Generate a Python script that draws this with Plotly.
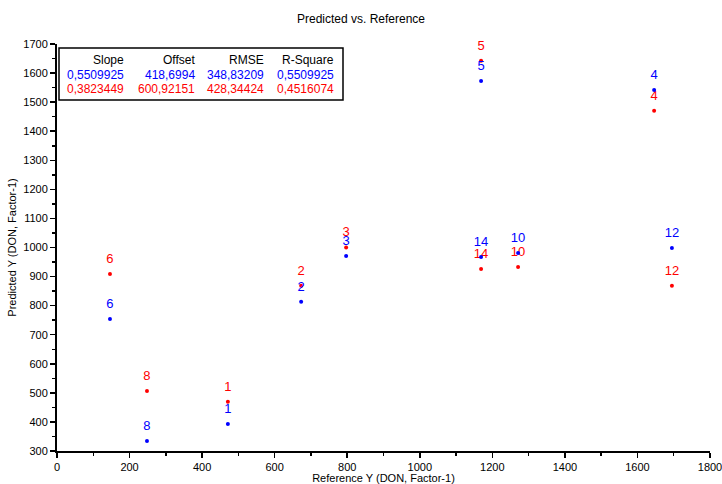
import plotly.graph_objects as go

sample_ids = ["1", "2", "3", "4", "5", "6", "8", "10", "12", "14"]
reference_y = [471, 673, 797, 1646, 1169, 146, 248, 1271, 1695, 1169]
predicted_blue = [393, 813, 971, 1542, 1573, 754, 334, 981, 998, 967]
predicted_red = [469, 868, 1000, 1470, 1642, 909, 506, 933, 868, 926]

table_headers = ["Slope", "Offset", "RMSE", "R-Square"]
table_blue = ["0,5509925", "418,6994", "348,83209", "0,5509925"]
table_red = ["0,3823449", "600,92151", "428,34424", "0,4516074"]

FONT = "Liberation Sans, Arial, sans-serif"

fig = go.Figure()
for vals, col in [(predicted_red, "#ff0000"), (predicted_blue, "#0000ff")]:
    # labels (invisible spacer marker sets the label's distance from the dot)
    fig.add_trace(go.Scatter(
        x=reference_y, y=vals, mode="markers+text", text=sample_ids,
        textposition="top center",
        textfont=dict(color=col, size=13, family=FONT),
        marker=dict(color="rgba(0,0,0,0)", size=11),
        showlegend=False, hoverinfo="skip", cliponaxis=False,
    ))
    fig.add_trace(go.Scatter(
        x=reference_y, y=vals, mode="markers",
        marker=dict(color=col, size=4),
        showlegend=False, hoverinfo="skip", cliponaxis=False,
    ))

L, R, T, B = 57, 12, 44, 33
W, H = 722, 484
pw, ph = W - L - R, H - T - B

def px_x(p):
    return (p - L) / pw

def px_y(p):
    return 1 - (p - T) / ph

# table box
fig.add_shape(type="rect", xref="paper", yref="paper",
              x0=px_x(59), x1=px_x(343), y0=px_y(100), y1=px_y(48),
              line=dict(color="black", width=1.5), fillcolor="white", layer="above")
col_right = [126, 197, 266, 336]
row_y = [60, 75, 89]
rows = [(table_headers, "black"), (table_blue, "#0000ff"), (table_red, "#ff0000")]
for (texts, col), ry in zip(rows, row_y):
    for t, cx in zip(texts, col_right):
        fig.add_annotation(x=px_x(cx), y=px_y(ry), xref="paper", yref="paper",
                           text=t, showarrow=False, xanchor="right", yanchor="middle",
                           font=dict(color=col, size=12, family=FONT))

fig.update_layout(
    width=W, height=H,
    margin=dict(l=L, r=R, t=T, b=B, autoexpand=False),
    paper_bgcolor="white", plot_bgcolor="white",
    font=dict(family=FONT, color="black", size=11),
    title=dict(text="Predicted vs. Reference", x=0.5, xanchor="center",
               y=1 - 19 / H, yanchor="middle", font=dict(size=12, family=FONT)),
)
fig.update_xaxes(
    range=[0, 1800], dtick=200, tick0=0, showgrid=False, zeroline=False,
    automargin=False, ticklabeloverflow="allow",
    showline=True, linecolor="black", linewidth=2, ticks="outside", ticklen=5,
    tickwidth=1.5, tickcolor="black",
    minor=dict(ticks="outside", ticklen=3, dtick=100, tickcolor="black", showgrid=False),
    title=dict(text="Reference Y (DON, Factor-1)", font=dict(size=11), standoff=2),
    tickfont=dict(size=11),
)
fig.update_yaxes(
    range=[300, 1700], dtick=100, tick0=300, showgrid=False, zeroline=False,
    automargin=False, ticklabeloverflow="allow",
    showline=True, linecolor="black", linewidth=2, ticks="outside", ticklen=5,
    tickwidth=1.5, tickcolor="black",
    minor=dict(ticks="outside", ticklen=3, dtick=50, tickcolor="black", showgrid=False),
    title=dict(text="Predicted Y (DON, Factor-1)", font=dict(size=11), standoff=4),
    tickfont=dict(size=11),
)

fig.write_html("out.html", config={"displayModeBar": False, "staticPlot": True},
               post_script="document.body.style.margin='0';document.body.style.overflow='hidden';")
